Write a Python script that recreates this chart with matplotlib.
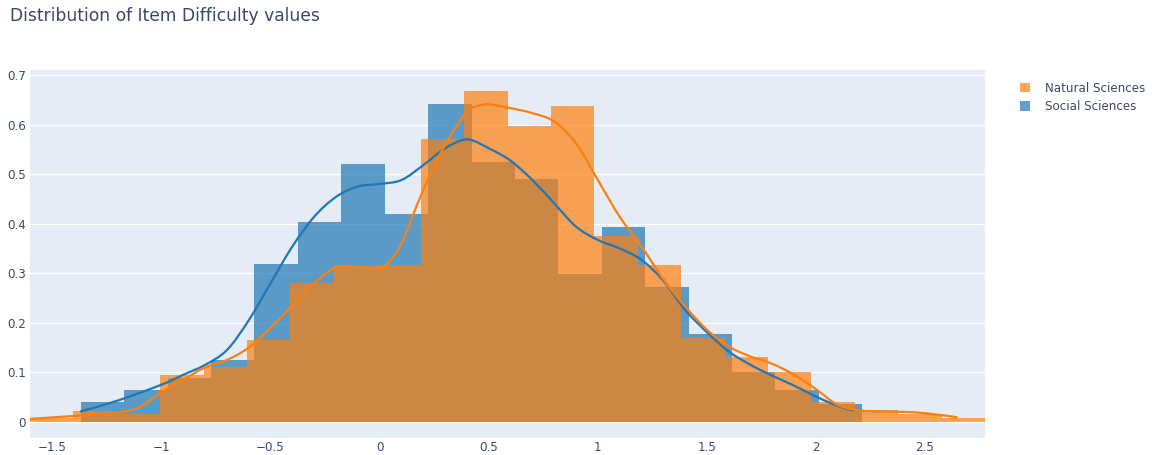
import matplotlib
matplotlib.use("Agg")
import matplotlib.pyplot as plt
from matplotlib.patches import Patch, PathPatch
from matplotlib.path import Path
import numpy as np

# ---------------- data ----------------
title = "Distribution of Item Difficulty values"
series_names = ["Social Sciences", "Natural Sciences"]

bin_size = 0.199

social_start = -1.370
social_density = [0.040, 0.065, 0.088, 0.125, 0.318, 0.404, 0.520, 0.419, 0.641,
                  0.525, 0.490, 0.298, 0.394, 0.273, 0.177, 0.101, 0.065, 0.036]

natural_start = -1.603
natural_density = [0.0075, 0.022, 0.015, 0.095, 0.110, 0.165, 0.280, 0.315, 0.317,
                   0.570, 0.668, 0.598, 0.637, 0.375, 0.317, 0.170, 0.130, 0.100,
                   0.040, 0.024, 0.016, 0.0075]

social_kde_x = [-1.37, -1.2, -1.0, -0.9, -0.8, -0.7, -0.6, -0.5, -0.4, -0.3, -0.2, -0.1,
                0.0, 0.1, 0.2, 0.3, 0.4, 0.5, 0.6, 0.7, 0.8, 0.9, 1.0, 1.1, 1.2,
                1.3, 1.4, 1.5, 1.6, 1.7, 1.8, 1.9, 2.0, 2.1, 2.17]
social_kde_y = [0.021, 0.043, 0.075, 0.095, 0.115, 0.145, 0.205, 0.280, 0.354, 0.414,
                0.454, 0.475, 0.480, 0.488, 0.518, 0.552, 0.570, 0.552, 0.527, 0.488,
                0.441, 0.394, 0.367, 0.350, 0.327, 0.285, 0.226, 0.181, 0.142, 0.115,
                0.093, 0.073, 0.051, 0.032, 0.023]

natural_kde_x = [-1.603, -1.4, -1.2, -1.1, -1.0, -0.9, -0.8, -0.7, -0.6, -0.5, -0.4,
                 -0.3, -0.2, -0.1, 0.0, 0.05, 0.1, 0.2, 0.3, 0.4, 0.45, 0.5, 0.6, 0.7,
                 0.8, 0.9, 1.0, 1.1, 1.2, 1.3, 1.4, 1.5, 1.6, 1.7, 1.8, 1.9, 2.0,
                 2.1, 2.2, 2.3, 2.4, 2.5, 2.645]
natural_kde_y = [0.006, 0.012, 0.019, 0.030, 0.060, 0.085, 0.110, 0.125, 0.150, 0.190,
                 0.235, 0.280, 0.312, 0.312, 0.310, 0.327, 0.360, 0.468, 0.559, 0.626,
                 0.637, 0.641, 0.633, 0.623, 0.606, 0.562, 0.488, 0.414, 0.354, 0.288,
                 0.233, 0.186, 0.152, 0.132, 0.117, 0.095, 0.066, 0.034, 0.023, 0.021,
                 0.020, 0.0175, 0.0095]

x_ticks = [-1.5, -1, -0.5, 0, 0.5, 1, 1.5, 2, 2.5]
x_tick_labels = ["\u22121.5", "\u22121", "\u22120.5", "0", "0.5", "1", "1.5", "2", "2.5"]
y_ticks = [0, 0.1, 0.2, 0.3, 0.4, 0.5, 0.6, 0.7]
y_tick_labels = ["0", "0.1", "0.2", "0.3", "0.4", "0.5", "0.6", "0.7"]

# ---------------- style ----------------
BLUE = (31/255, 119/255, 180/255)
ORANGE = (1.0, 127/255, 14/255)
BG = "#e5ecf6"
TXT = "#3a4a66"
W, H = 1155, 455

plt.rcParams['font.family'] = ['DejaVu Sans']


def spline_path(xs, ys, smoothing=1/6):
    """Smooth line through the given points (Catmull-Rom drawn as cubic Beziers),
    like a 'spline' line shape."""
    xs = np.asarray(xs, float)
    ys = np.asarray(ys, float)
    n = len(xs)
    verts = [(xs[0], ys[0])]
    codes = [Path.MOVETO]
    for i in range(n - 1):
        p0 = (xs[max(i - 1, 0)], ys[max(i - 1, 0)])
        p1 = (xs[i], ys[i])
        p2 = (xs[i + 1], ys[i + 1])
        p3 = (xs[min(i + 2, n - 1)], ys[min(i + 2, n - 1)])
        c1 = (p1[0] + (p2[0] - p0[0]) * smoothing, p1[1] + (p2[1] - p0[1]) * smoothing)
        c2 = (p2[0] - (p3[0] - p1[0]) * smoothing, p2[1] - (p3[1] - p1[1]) * smoothing)
        verts += [c1, c2, p2]
        codes += [Path.CURVE4, Path.CURVE4, Path.CURVE4]
    return Path(verts, codes)


fig = plt.figure(figsize=(W/100, H/100), dpi=100)
left, right, top, bottom = 30, 985, 70, 437.7
ax = fig.add_axes([left/W, 1 - bottom/H, (right-left)/W, (bottom-top)/H])
ax.set_facecolor(BG)
for s in ax.spines.values():
    s.set_visible(False)

social_edges = social_start + bin_size*np.arange(len(social_density)+1)
natural_edges = natural_start + bin_size*np.arange(len(natural_density)+1)

ax.bar(social_edges[:-1], social_density, width=bin_size, align='edge',
       color=BLUE, alpha=0.7, linewidth=0, zorder=2)
ax.bar(natural_edges[:-1], natural_density, width=bin_size, align='edge',
       color=ORANGE, alpha=0.7, linewidth=0, zorder=3)

ax.add_patch(PathPatch(spline_path(social_kde_x, social_kde_y), facecolor='none',
                       edgecolor=BLUE, lw=1.6, zorder=4, capstyle='round'))
ax.add_patch(PathPatch(spline_path(natural_kde_x, natural_kde_y), facecolor='none',
                       edgecolor=ORANGE, lw=1.6, zorder=5, capstyle='round'))

xmin = min(social_edges[0], natural_edges[0])
xmax = max(social_edges[-1], natural_edges[-1])
ax.set_xlim(xmin, xmax)
ax.set_ylim(-0.032, 0.71)

ax.set_xticks(x_ticks)
ax.set_xticklabels(x_tick_labels)
ax.set_yticks(y_ticks)
ax.set_yticklabels(y_tick_labels)
ax.tick_params(axis='both', length=0, labelsize=8.6, labelcolor=TXT)
ax.tick_params(axis='x', pad=2.5)
ax.tick_params(axis='y', pad=3)
ax.grid(True, axis='y', color='white', lw=0.9, zorder=0)
ax.set_axisbelow(True)
ax.axhline(0, color='white', lw=1.6, zorder=1)

fig.text(10/W, 1 - 16/H, title, fontsize=12.3, color=TXT, va='center', ha='left')

handles = [Patch(facecolor=ORANGE, alpha=0.7, label=series_names[1]),
           Patch(facecolor=BLUE, alpha=0.7, label=series_names[0])]
fig.legend(handles=handles, loc='upper left', bbox_to_anchor=(1015/W, 1 - 77/H),
           frameon=False, fontsize=8.6, labelcolor=TXT, handlelength=0.85,
           handleheight=0.85, handletextpad=1.3, labelspacing=0.45, borderaxespad=0)

fig.savefig("out.png", dpi=100, facecolor='white')
